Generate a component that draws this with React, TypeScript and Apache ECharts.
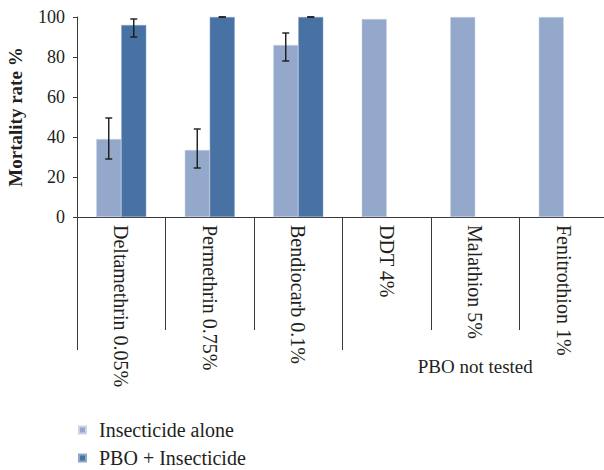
import React, { useEffect, useRef } from "react";
import * as echarts from "echarts";

const categories = [
  "Deltamethrin 0.05%",
  "Permethrin 0.75%",
  "Bendiocarb 0.1%",
  "DDT 4%",
  "Malathion 5%",
  "Fenitrothion 1%",
];
const groupLabels = ["", "PBO not tested"];
const seriesNames = ["Insecticide alone", "PBO + Insecticide"];
const aloneValues = [39, 33.5, 86, 99, 100, 100];
const pboValues: (number | null)[] = [96, 100, 100, null, null, null];
const aloneErrLow: (number | null)[] = [29, 24.5, 78, null, null, null];
const aloneErrHigh: (number | null)[] = [49.5, 44, 92, null, null, null];
const pboErrLow: (number | null)[] = [90, 100, 100, null, null, null];
const pboErrHigh: (number | null)[] = [99, 100, 100, null, null, null];
const yTicks = [0, 20, 40, 60, 80, 100];

const FONT = "'Liberation Serif', 'Times New Roman', 'DejaVu Serif', serif";
const TEXT = "#231f20";
const AXIS = "#3a3a3a";
const LIGHT = "#94a8cb";
const DARK = "#4872a3";
const GAP = 0.435;

function errRows(lo: (number | null)[], hi: (number | null)[]) {
  const rows: number[][] = [];
  lo.forEach((l, i) => {
    const h = hi[i];
    if (l != null && h != null) rows.push([i, l, h]);
  });
  return rows;
}

function makeRender(sign: number) {
  return (params: any, api: any) => {
    const x = api.value(0);
    const lo = api.coord([x, api.value(1)]);
    const hi = api.coord([x, api.value(2)]);
    const band = api.size([1, 0])[0];
    const cx = lo[0] + (sign * band * (1 - GAP)) / 4;
    const cap = 3.5;
    const style = { stroke: "#1a1a1a", lineWidth: 1.4 };
    return {
      type: "group",
      children: [
        { type: "line", shape: { x1: cx, y1: lo[1], x2: cx, y2: hi[1] }, style },
        { type: "line", shape: { x1: cx - cap, y1: lo[1], x2: cx + cap, y2: lo[1] }, style },
        { type: "line", shape: { x1: cx - cap, y1: hi[1], x2: cx + cap, y2: hi[1] }, style },
      ],
    };
  };
}

export default function App() {
  const ref = useRef<HTMLDivElement>(null);
  useEffect(() => {
    if (!ref.current) return;
    const chart = echarts.init(ref.current, undefined, { renderer: "svg" });
    chart.setOption({
      animation: false,
      backgroundColor: "#ffffff",
      textStyle: { fontFamily: FONT, color: TEXT },
      grid: { left: 77, top: 17, width: 531, height: 200, outerBoundsMode: "none" },
      legend: {
        data: seriesNames,
        orient: "vertical",
        left: 73,
        top: 415,
        height: 100,
        itemWidth: 7,
        itemHeight: 7,
        itemGap: 8,
        icon: "rect",
        textStyle: { fontFamily: FONT, fontSize: 20, color: TEXT, padding: [0, 0, 0, 8] },
      },
      xAxis: [
        {
          type: "category",
          data: categories,
          position: "bottom",
          axisLine: { show: true, lineStyle: { color: AXIS, width: 1 } },
          axisTick: { show: true, length: 113, lineStyle: { color: AXIS, width: 1 } },
          axisLabel: {
            rotate: -90,
            margin: 8,
            fontFamily: FONT,
            fontSize: 20,
            color: TEXT,
            interval: 0,
          },
        },
        {
          type: "category",
          data: groupLabels,
          position: "bottom",
          axisLine: { show: false },
          axisTick: { show: true, length: 133, lineStyle: { color: AXIS, width: 1 } },
          axisLabel: { margin: 140, fontFamily: FONT, fontSize: 19, color: TEXT, interval: 0 },
        },
      ],
      yAxis: {
        type: "value",
        min: yTicks[0],
        max: yTicks[yTicks.length - 1],
        interval: yTicks[1] - yTicks[0],
        name: "Mortality rate %",
        nameLocation: "middle",
        nameGap: 52,
        nameTextStyle: { fontFamily: FONT, fontSize: 19, fontWeight: "bold", color: TEXT },
        axisLine: { show: true, lineStyle: { color: AXIS, width: 1 } },
        axisTick: { show: true, length: 4, lineStyle: { color: AXIS } },
        splitLine: { show: false },
        axisLabel: { fontFamily: FONT, fontSize: 18, color: TEXT, margin: 12 },
      },
      series: [
        {
          name: seriesNames[0],
          type: "bar",
          data: aloneValues,
          itemStyle: { color: LIGHT, borderColor: "#c9d4e6", borderWidth: 0.5 },
          barGap: "0%",
          barCategoryGap: GAP * 100 + "%",
        },
        {
          name: seriesNames[1],
          type: "bar",
          data: pboValues,
          itemStyle: { color: DARK, borderColor: "#8fa6c8", borderWidth: 0.5 },
          barGap: "0%",
          barCategoryGap: GAP * 100 + "%",
        },
        {
          name: "err-alone",
          type: "custom",
          renderItem: makeRender(-1),
          data: errRows(aloneErrLow, aloneErrHigh),
          encode: { x: 0, y: [1, 2] },
          z: 5,
        },
        {
          name: "err-pbo",
          type: "custom",
          renderItem: makeRender(1),
          data: errRows(pboErrLow, pboErrHigh),
          encode: { x: 0, y: [1, 2] },
          z: 5,
        },
      ],
    });
    return () => chart.dispose();
  }, []);
  return (
    <div
      ref={ref}
      style={{ position: "absolute", left: 0, top: 0, width: 604, height: 470, background: "#fff" }}
    />
  );
}
